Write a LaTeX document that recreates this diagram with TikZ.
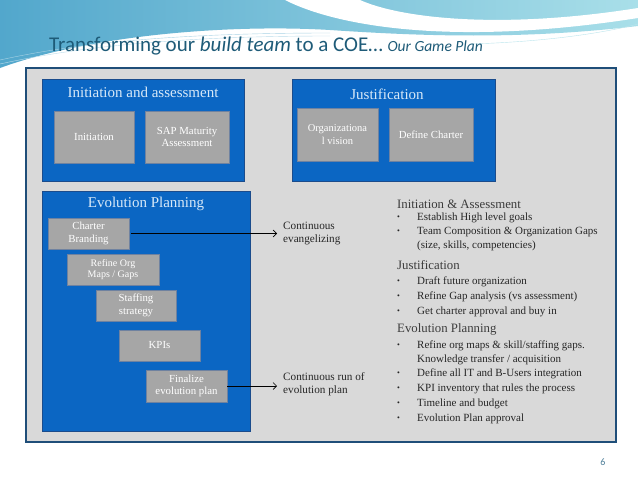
\documentclass[tikz,border=0pt]{standalone}
\usepackage{fontspec}
\setmainfont{Liberation Serif}
\newfontfamily\titlefont{Carlito}
\usetikzlibrary{arrows.meta}
\definecolor{topA}{HTML}{52A7CC}
\definecolor{topB}{HTML}{A9DFE9}
\definecolor{panelgray}{HTML}{D9D9D9}
\definecolor{panelborder}{HTML}{1F4E79}
\definecolor{bluebox}{HTML}{0B66C3}
\definecolor{blueborder}{HTML}{1B4C8C}
\definecolor{graybox}{HTML}{A6A6A6}
\definecolor{grayborder}{HTML}{6F82A0}
\definecolor{grouptitle}{HTML}{D8E9F8}
\definecolor{headtext}{HTML}{1E5B78}
\definecolor{bodytext}{HTML}{262626}
\definecolor{pagenum}{HTML}{4F7F99}
\tikzset{
  panel/.style={draw=panelborder, fill=panelgray, line width=1.2pt, inner sep=0pt},
  groupbox/.style={draw=blueborder, fill=bluebox, line width=0.8pt, inner sep=0pt},
  grouptitle/.style={text=grouptitle, font=\fontsize{15}{17}\selectfont, inner sep=0pt},
  stepbox/.style={draw=grayborder, fill=graybox, line width=0.7pt, text=white,
    font=\fontsize{10.8}{12.5}\selectfont, align=center, inner sep=0pt},
  sidelabel/.style={anchor=west, align=left, text=bodytext, font=\fontsize{11.2}{12.5}\selectfont, inner sep=0pt},
  conn/.style={line width=0.6pt, black, -{Straight Barb[length=3.5pt,width=7pt]}},
  listhead/.style={anchor=west, text=bodytext!90, font=\fontsize{12.8}{15}\selectfont, inner sep=0pt},
  listitem/.style={anchor=west, align=left, text=bodytext, font=\fontsize{11}{14}\selectfont, inner sep=0pt},
  listdot/.style={anchor=west, text=bodytext, font=\fontsize{8}{10}\selectfont, inner sep=0pt}
}
\begin{document}
\begin{tikzpicture}[x=1pt,y=-1pt]
\useasboundingbox (0,0) rectangle (638,479);
\fill[white] (0,0) rectangle (638,479);
% top decoration
\shade[left color=topA, right color=topB] (0,0) -- (638,0) -- (638,26)
  .. controls (520,40) and (420,36) .. (330,30)
  .. controls (230,24) and (90,35) .. (0,68) -- cycle;
\fill[white] (285,0) .. controls (340,28) and (460,46) .. (638,18)
  -- (638,8) .. controls (500,30) and (400,18) .. (360,0) -- cycle;
\draw[topA!50, line width=0.4pt] (0,60) .. controls (90,40) and (200,33) .. (330,33);
\draw[topA!40, line width=0.4pt] (0,64) .. controls (90,44) and (200,36) .. (330,36);
\draw[topB!80, line width=0.4pt] (470,44) .. controls (540,42) and (600,34) .. (638,24);
% title
\node[anchor=base west, inner sep=0pt, text=headtext] (title) at (49,52)
  {\titlefont\fontsize{21}{24}\selectfont Transforming our \textit{build team} to a COE\ldots{} \fontsize{15.5}{18}\selectfont\textit{Our Game Plan}};
% panel
\node[panel, minimum width=590pt, minimum height=374pt] (panel) at (321,255) {};
% groups
\node[groupbox, minimum width=202pt, minimum height=102pt] (ginit) at (143,130) {};
\node[groupbox, minimum width=203pt, minimum height=102pt] (gjust) at (393.5,130) {};
\node[groupbox, minimum width=208pt, minimum height=240pt] (gevol) at (146,311) {};
\node[grouptitle] (tinit) at (143,92) {Initiation and assessment};
\node[grouptitle] (tjust) at (387,94) {Justification};
\node[grouptitle] (tevol) at (146,204) {Evolution Planning};
% step boxes
\node[stepbox, minimum width=80pt, minimum height=52pt] (initiation) at (94,137) {Initiation};
\node[stepbox, minimum width=84pt, minimum height=52pt] (sap) at (187,137) {SAP Maturity\\Assessment};
\node[stepbox, minimum width=81pt, minimum height=53pt, font=\fontsize{10.5}{12.5}\selectfont] (orgvision) at (337.5,134.5) {Organizationa\\l vision};
\node[stepbox, minimum width=84pt, minimum height=53pt] (charter) at (431,134.5) {Define Charter};
\node[stepbox, minimum width=81pt, minimum height=31pt] (branding) at (88.5,233.5) {Charter\\Branding};
\node[stepbox, minimum width=92pt, minimum height=31pt, font=\fontsize{10}{11.5}\selectfont] (refine) at (113,269.5) {Refine Org\\Maps / Gaps};
\node[stepbox, minimum width=80pt, minimum height=31pt] (staffing) at (136,305.5) {Staffing\\strategy};
\node[stepbox, minimum width=81pt, minimum height=31pt] (kpis) at (159.5,345.5) {KPIs};
\node[stepbox, minimum width=81pt, minimum height=32pt] (finalize) at (186.5,386) {Finalize\\evolution plan};
% side labels and connectors
\node[sidelabel] (evang) at (283,233.5) {Continuous\\evangelizing};
\node[sidelabel] (runplan) at (283,384) {Continuous run of\\evolution plan};
\draw[conn] ([xshift=2pt]branding.east) -- ([xshift=-6pt]branding.east -| evang.west);
\draw[conn] (finalize.east) -- ([xshift=-6pt]finalize.east -| runplan.west);
% right list
\node[listhead] (h1) at (397,204) {Initiation \& Assessment};
\node[listdot] (d1) at (397,218) {\textbullet};
\node[listitem] (i1) at (417,218) {Establish High level goals};
\node[listdot] (d2) at (397,232) {\textbullet};
\node[listitem] (i2) at (417,239) {Team Composition \& Organization Gaps\\(size, skills, competencies)};
\node[listhead] (h2) at (397,265) {Justification};
\node[listdot] (d3) at (397,282) {\textbullet};
\node[listitem] (i3) at (417,282) {Draft future organization};
\node[listdot] (d4) at (397,297) {\textbullet};
\node[listitem] (i4) at (417,297) {Refine Gap analysis (vs assessment)};
\node[listdot] (d5) at (397,312) {\textbullet};
\node[listitem] (i5) at (417,312) {Get charter approval and buy in};
\node[listhead] (h3) at (397,329) {Evolution Planning};
\node[listdot] (d6) at (397,346) {\textbullet};
\node[listitem] (i6) at (417,353) {Refine org maps \& skill/staffing gaps.\\Knowledge transfer / acquisition};
\node[listdot] (d7) at (397,374) {\textbullet};
\node[listitem] (i7) at (417,374) {Define all IT and B-Users integration};
\node[listdot] (d8) at (397,389) {\textbullet};
\node[listitem] (i8) at (417,389) {KPI inventory that rules the process};
\node[listdot] (d9) at (397,404) {\textbullet};
\node[listitem] (i9) at (417,404) {Timeline and budget};
\node[listdot] (d10) at (397,419) {\textbullet};
\node[listitem] (i10) at (417,419) {Evolution Plan approval};
% page number
\node[text=pagenum, inner sep=0pt, font=\titlefont\fontsize{10}{12}\selectfont] (page) at (603,462) {6};
\end{tikzpicture}
\end{document}
